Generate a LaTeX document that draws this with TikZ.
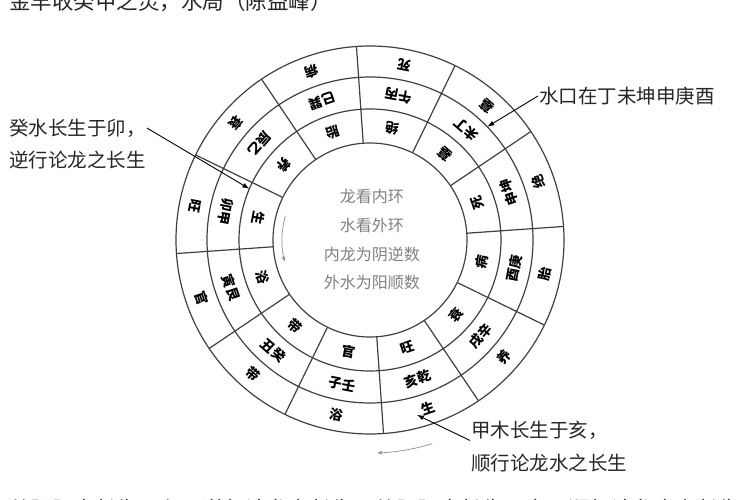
\documentclass[tikz,border=0pt]{standalone}
\usepackage{fontspec}
\newfontfamily\cjk{Noto Sans CJK SC}
\usetikzlibrary{arrows.meta}
\tikzset{
  ring/.style={draw=black!75, line width=1.2pt},
  ringtxt/.style={font=\cjk\bfseries\fontsize{13.5}{13.5}\selectfont, inner sep=0pt},
  midtxt/.style={font=\cjk\fontsize{16}{16}\selectfont, text=black!50, inner sep=0pt},
  lbl/.style={font=\cjk\fontsize{19.5}{19.5}\selectfont, text=black!85, anchor=west, inner sep=1pt},
  pointer/.style={-{Latex[length=7pt,width=5pt]}, line width=0.9pt},
  turn/.style={-{Stealth[length=5pt,width=4pt]}, draw=black!45, line width=0.7pt},
}
\begin{document}
\begin{tikzpicture}[x=1pt,y=1pt]
    \useasboundingbox (-370,-260) rectangle (380,240);
    %% title and last line, cut by the page
    \node[lbl, anchor=base west, font=\cjk\fontsize{21.5}{21.5}\selectfont] (title) at (-362,230) {金羊收癸甲之灵，水局（陈益峰）};
    \node[lbl, anchor=base west, font=\cjk\fontsize{21.5}{21.5}\selectfont] (tail) at (-362,-277) {从阴阳水长生于卯，逆行论龙之长生，从阳阳木长生于亥，顺行论龙水之长生};
    %% rings
    \foreach \r in {97,131,163,194}
        \draw[ring] (0,0) circle (\r pt);
    \foreach \a in {4,34,...,334}
        \draw[ring] (\a:97pt) -- (\a:194pt);
    %% outer ring water, middle ring mountains, inner ring dragon
    \foreach \a/\w/\m/\d in {259/浴/子壬/官, 229/带/丑癸/带, 199/官/寅艮/浴, 169/旺/卯甲/生,
                             139/衰/辰乙/养, 109/病/巳巽/胎, 79/死/午丙/绝, 49/墓/未丁/墓,
                             19/绝/申坤/死, 349/胎/酉庚/病, 319/养/戌辛/衰, 289/生/亥乾/旺}{
        \node[ringtxt, rotate=\a+90] (w\a) at (\a:178pt) {\w};
        \node[ringtxt, rotate=\a+90] (m\a) at (\a:147pt) {\m};
        \node[ringtxt, rotate=\a+90] (d\a) at (\a:114pt) {\d};
    }
    %% centre
    \node[midtxt] (c1) at (2,44) {龙看内环};
    \node[midtxt] (c2) at (2,15) {水看外环};
    \node[midtxt] (c3) at (2,-14) {内龙为阴逆数};
    \node[midtxt] (c4) at (2,-42) {外水为阳顺数};
    %% turning arrows
    \draw[turn] (164:88pt) arc[start angle=164, end angle=194, radius=88pt];
    \draw[turn] (287:213pt) arc[start angle=287, end angle=272, radius=213pt];
    %% notes
    \node[lbl] (lblA1) at (-362,112) {癸水长生于卯，};
    \node[lbl] (lblA2) at (-362,80) {逆行论龙之长生};
    \node[lbl] (lblB) at (168,144) {水口在丁未坤申庚酉};
    \node[lbl] (lblC1) at (100,-190) {甲木长生于亥，};
    \node[lbl] (lblC2) at (100,-223) {顺行论龙水之长生};
    \coordinate (maoR) at (157:131pt);
    \coordinate (weiR) at (44:163pt);
    \coordinate (haiR) at (285:181pt);
    \draw[pointer] (lblA1.east) -- (maoR);
    \draw[pointer] (lblB.west) -- (weiR);
    \draw[pointer] (lblC1.south west) -- (haiR);
\end{tikzpicture}
\end{document}
